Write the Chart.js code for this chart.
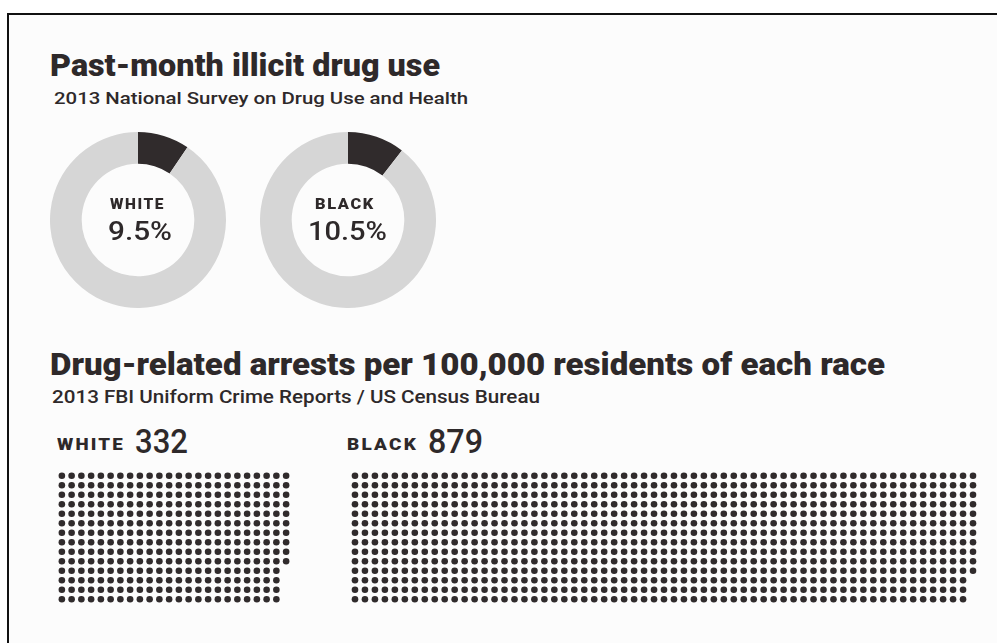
<!DOCTYPE html>
<html>
<head>
<meta charset="utf-8">
<script src="https://cdn.jsdelivr.net/npm/chart.js@4.4.1/dist/chart.umd.min.js"></script>
<style>
    html, body { margin: 0; padding: 0; background: #ffffff; }
    #page {
        position: absolute; left: 7px; top: 13px; width: 990px; height: 630px;
        background: #fcfcfc; border-left: 2px solid #111; border-top: 2px solid #111;
        box-sizing: border-box;
    }
    .abs { position: absolute; }
    .txt {
        position: absolute; white-space: nowrap; color: #2e292a; line-height: 1;
        transform-origin: 0 0; font-family: Roboto, "Noto Sans", sans-serif;
    }
    .h1 { font-weight: 900; font-size: 31px; }
    .sub { font-weight: 500; font-size: 17px; }
    .lab { font-weight: 900; letter-spacing: 1.5px; }
    .num { font-weight: 500; }
</style>
</head>
<body>
<div id="page"></div>

<div class="txt h1" data-x="50" data-y="50" data-w="390">Past-month illicit drug use</div>
<div class="txt sub" data-x="54" data-y="90" data-w="414">2013 National Survey on Drug Use and Health</div>

<div class="abs" style="left:50px;top:132px;width:176px;height:176px"><canvas id="donutWhite"></canvas></div>
<div class="abs" style="left:260px;top:132px;width:176px;height:176px"><canvas id="donutBlack"></canvas></div>

<div class="txt lab" id="donutLabel0" style="font-size:15px" data-x="110" data-y="197" data-w="55"></div>
<div class="txt num" id="donutValue0" style="font-size:25px" data-x="108" data-y="219" data-w="64"></div>
<div class="txt lab" id="donutLabel1" style="font-size:15px" data-x="315" data-y="197" data-w="60"></div>
<div class="txt num" id="donutValue1" style="font-size:25px" data-x="308" data-y="219" data-w="79"></div>

<div class="txt h1" style="font-size:32px" data-x="50" data-y="348" data-w="835">Drug-related arrests per 100,000 residents of each race</div>
<div class="txt sub" style="font-size:18px" data-x="52" data-y="388" data-w="488">2013 FBI Uniform Crime Reports / US Census Bureau</div>

<div class="txt lab" id="dotLabel0" style="font-size:17px;letter-spacing:2px" data-x="57" data-y="436" data-w="68"></div>
<div class="txt num" id="dotValue0" style="font-size:33px" data-x="135" data-y="425" data-w="53"></div>
<div class="txt lab" id="dotLabel1" style="font-size:17px;letter-spacing:2px" data-x="347" data-y="436" data-w="71"></div>
<div class="txt num" id="dotValue1" style="font-size:33px" data-x="428" data-y="425" data-w="55"></div>

<div class="abs" style="left:53px;top:467px;width:242px;height:141px"><canvas id="dotsWhite"></canvas></div>
<div class="abs" style="left:346px;top:467px;width:636px;height:141px"><canvas id="dotsBlack"></canvas></div>

<script>
    // data
    var races = ['WHITE', 'BLACK'];
    var drugUsePct = [9.5, 10.5];
    var arrestsPer100k = [332, 879];

    var DARK = '#302b2c';
    var GRAY = '#d6d6d6';
    var DOT_ROWS = 14;

    Chart.defaults.animation = false;

    function drawDonut(canvasId, pct) {
        return new Chart(document.getElementById(canvasId), {
            type: 'doughnut',
            data: {
                labels: ['used', 'not used'],
                datasets: [{
                    data: [pct, 100 - pct],
                    backgroundColor: [DARK, GRAY],
                    borderWidth: 0
                }]
            },
            options: {
                responsive: true,
                maintainAspectRatio: false,
                cutout: '64%',
                plugins: { legend: { display: false }, tooltip: { enabled: false } }
            }
        });
    }

    // one dot per arrest, filled column by column, top to bottom
    function dotPoints(count) {
        var pts = [];
        for (var i = 0; i < count; i++) {
            pts.push({ x: Math.floor(i / DOT_ROWS), y: i % DOT_ROWS });
        }
        return pts;
    }

    function drawDots(canvasId, count) {
        var cols = Math.ceil(count / DOT_ROWS);
        return new Chart(document.getElementById(canvasId), {
            type: 'scatter',
            data: {
                datasets: [{
                    data: dotPoints(count),
                    backgroundColor: DARK,
                    pointRadius: 3.3,
                    pointBorderWidth: 0,
                    clip: false
                }]
            },
            options: {
                responsive: true,
                maintainAspectRatio: false,
                layout: { padding: 0 },
                scales: {
                    x: { display: false, min: -0.5, max: cols - 0.5 },
                    y: { display: false, min: -0.5, max: DOT_ROWS - 0.5, reverse: true }
                },
                plugins: { legend: { display: false }, tooltip: { enabled: false } }
            }
        });
    }

    drawDonut('donutWhite', drugUsePct[0]);
    drawDonut('donutBlack', drugUsePct[1]);
    drawDots('dotsWhite', arrestsPer100k[0]);
    drawDots('dotsBlack', arrestsPer100k[1]);

    races.forEach(function (race, i) {
        document.getElementById('donutLabel' + i).textContent = race;
        document.getElementById('donutValue' + i).textContent = drugUsePct[i] + '%';
        document.getElementById('dotLabel' + i).textContent = race;
        document.getElementById('dotValue' + i).textContent = arrestsPer100k[i];
    });

    // place texts and squeeze them to the widths in the picture
    document.querySelectorAll('.txt').forEach(function (el) {
        el.style.left = el.dataset.x + 'px';
        el.style.top = el.dataset.y + 'px';
        var w = el.getBoundingClientRect().width;
        var target = parseFloat(el.dataset.w);
        if (w > 0 && target) {
            el.style.transform = 'scaleX(' + (target / w) + ')';
        }
    });
</script>
</body>
</html>
